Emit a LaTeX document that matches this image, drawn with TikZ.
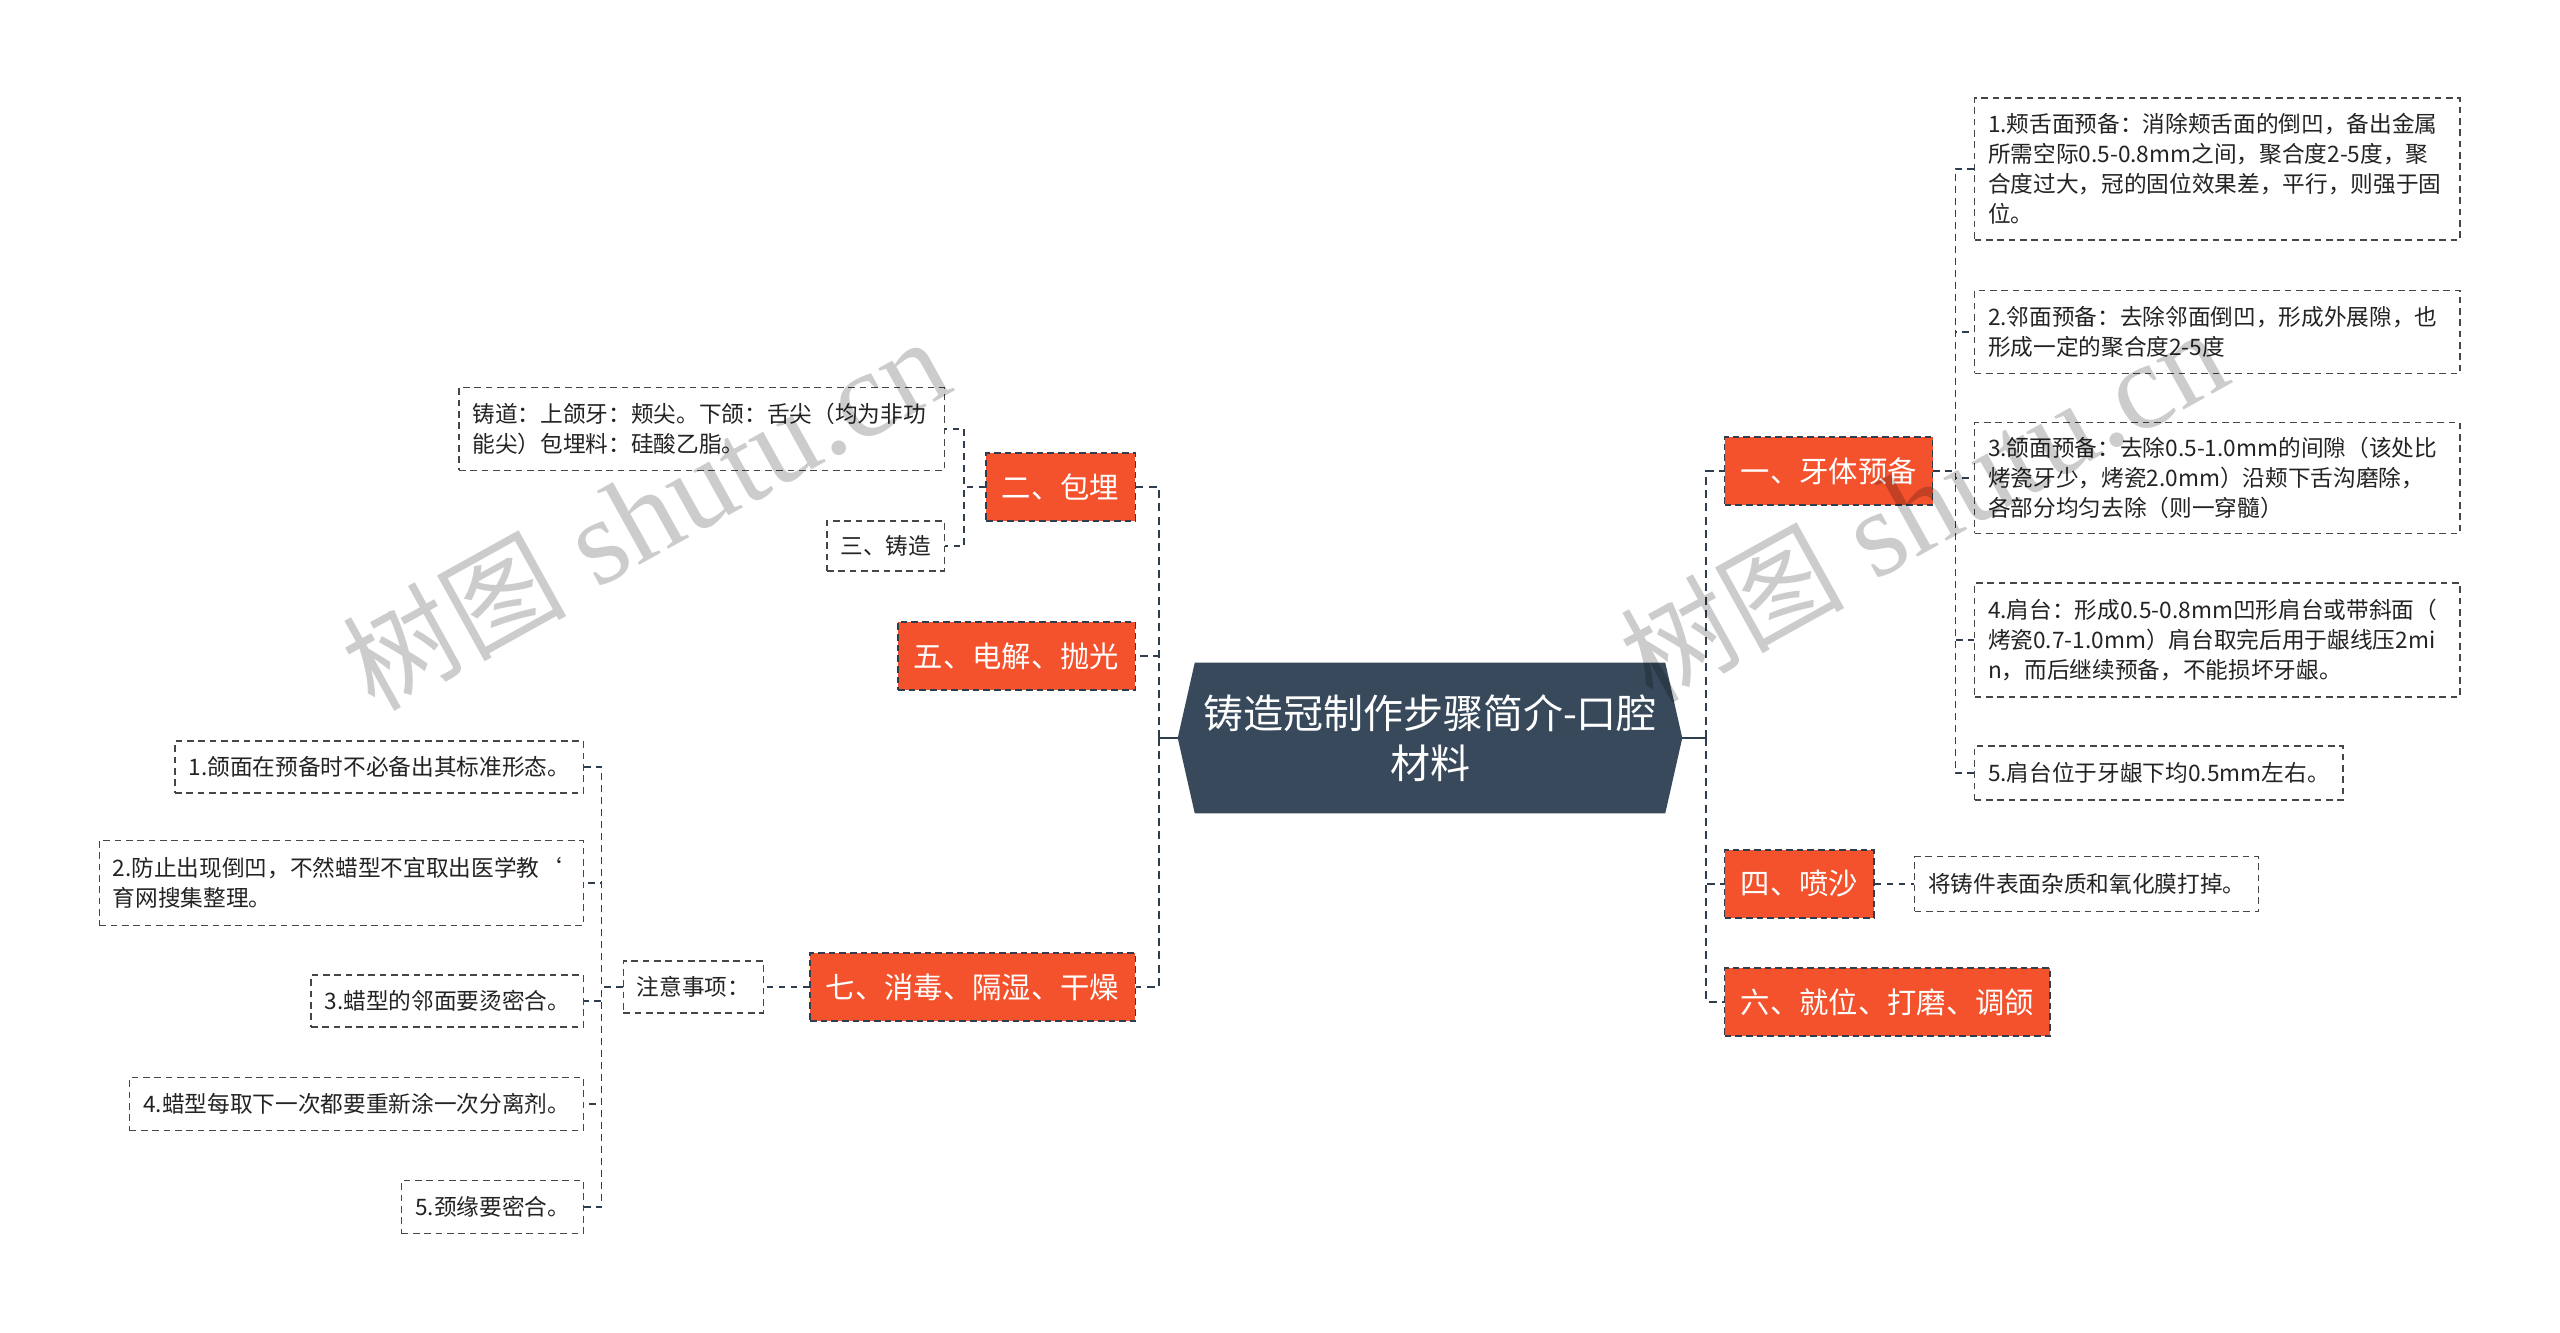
\documentclass[tikz,border=0pt]{standalone}
\usepackage{fontspec}
\setmainfont{Noto Sans CJK SC}
\newfontfamily\wmserif{Liberation Serif}
\newfontfamily\wmcjk{Noto Sans CJK SC}
\usetikzlibrary{calc,backgrounds}
\definecolor{orangeF}{RGB}{243,82,45}
\definecolor{slateF}{RGB}{55,73,90}
\definecolor{lineC}{RGB}{46,62,78}
\definecolor{leafB}{RGB}{70,70,70}
\definecolor{leafT}{RGB}{35,35,35}
\tikzset{
  central/.style={text=white, align=center, font=\fontsize{30}{37}\selectfont,
    minimum width=378pt, minimum height=112.5pt, inner sep=0pt},
  onode/.style={fill=orangeF, draw=lineC, dash pattern=on 5pt off 3pt, line width=1.1pt,
    text=white, font=\fontsize{22}{26}\selectfont, inner xsep=12pt, inner ysep=4pt,
    minimum height=51pt},
  leaf/.style={fill=white, draw=leafB, dash pattern=on 5pt off 3.5pt, line width=1pt,
    text=leafT, font=\fontsize{17}{22.5}\selectfont, inner xsep=10pt, inner ysep=4pt,
    align=left},
  trunkline/.style={draw=lineC, line width=2.2pt, dash pattern=on 6pt off 4pt},
  twig/.style={draw=lineC, line width=1.2pt, dash pattern=on 5pt off 4pt},
  solidc/.style={draw=lineC, line width=2.2pt},
  wmark/.style={text=black, opacity=0.2, rotate=29, inner sep=0pt}
}
\begin{document}
\begin{tikzpicture}[x=0.75pt,y=-0.75pt]
\useasboundingbox (0,0) rectangle (2560,1332);

% central
\node[central] (c) at (1430,738) {铸造冠制作步骤简介-口腔\\材料};
\begin{scope}[on background layer]
\fill[slateF] (c.west) -- ($(c.north west)+(17,0)$) -- ($(c.north east)+(-17,0)$) -- (c.east)
  -- ($(c.south east)+(-17,0)$) -- ($(c.south west)+(17,0)$) -- cycle;
\end{scope}

% right main branches
\node[onode, anchor=west] (n1) at (1724,471) {一、牙体预备};
\node[onode, anchor=west] (n4) at (1724,884) {四、喷沙};
\node[onode, anchor=west] (n6) at (1724,1002) {六、就位、打磨、调颌};

% left main branches
\node[onode, anchor=east] (n2) at (1136,487) {二、包埋};
\node[onode, anchor=east] (n5) at (1136,656) {五、电解、抛光};
\node[onode, anchor=east] (n7) at (1136,987) {七、消毒、隔湿、干燥};

% right leaves
\node[leaf, anchor=west, text width=344pt, minimum height=106.5pt] (r1) at (1974,169)
  {1.颊舌面预备：消除颊舌面的倒凹，备出金属\\所需空际0.5-0.8mm之间，聚合度2-5度，聚\\合度过大，冠的固位效果差，平行，则强于固\\位。};
\node[leaf, anchor=west, text width=344pt, minimum height=62pt] (r2) at (1974,332)
  {2.邻面预备：去除邻面倒凹，形成外展隙，也\\形成一定的聚合度2-5度};
\node[leaf, anchor=west, text width=344pt, minimum height=83pt] (r3) at (1974,478)
  {3.颌面预备：去除0.5-1.0mm的间隙（该处比\\烤瓷牙少，烤瓷2.0mm）沿颊下舌沟磨除，\\各部分均匀去除（则一穿髓）};
\node[leaf, anchor=west, text width=344pt, minimum height=85.5pt] (r4) at (1974,640)
  {4.肩台：形成0.5-0.8mm凹形肩台或带斜面（\\烤瓷0.7-1.0mm）肩台取完后用于龈线压2mi\\n，而后继续预备，不能损坏牙龈。};
\node[leaf, anchor=west, minimum height=40.5pt] (r5) at (1974,773)
  {5.肩台位于牙龈下均0.5mm左右。};
\node[leaf, anchor=west, minimum height=41pt] (pj) at (1914,884)
  {将铸件表面杂质和氧化膜打掉。};

% left leaves of 二
\node[leaf, anchor=east, text width=344pt, minimum height=62pt] (zd) at (945,429)
  {铸道：上颌牙：颊尖。下颌：舌尖（均为非功\\能尖）包埋料：硅酸乙脂。};
\node[leaf, anchor=east, minimum height=37.5pt] (sz) at (945,546) {三、铸造};

% 七 children
\node[leaf, anchor=east, minimum height=39pt] (zy) at (764,987) {注意事项：};
\node[leaf, anchor=east, minimum height=39pt] (l1) at (584,767) {1.颌面在预备时不必备出其标准形态。};
\node[leaf, anchor=east, text width=343pt, minimum height=64pt] (l2) at (584,883)
  {2.防止出现倒凹，不然蜡型不宜取出医学教\char96\\育网搜集整理。};
\node[leaf, anchor=east, minimum height=39pt] (l3) at (584,1001) {3.蜡型的邻面要烫密合。};
\node[leaf, anchor=east, minimum height=40pt] (l4) at (584,1104) {4.蜡型每取下一次都要重新涂一次分离剂。};
\node[leaf, anchor=east, minimum height=40pt] (l5) at (584,1207) {5.颈缘要密合。};

% connectors: center to trunks
\coordinate (rj) at (1706,738);
\coordinate (lj) at (1159,738);
\draw[solidc] (c.east) -- (rj);
\draw[solidc] (c.west) -- (lj);
\draw[trunkline] (rj) |- (n1.west);
\draw[trunkline] (rj) |- (n4.west);
\draw[trunkline] (rj) |- (n6.west);
\draw[trunkline] (lj) |- (n2.east);
\draw[trunkline] (lj) |- (n5.east);
\draw[trunkline] (lj) |- (n7.east);

% sub branches
\foreach \t in {r1,r2,r3,r4,r5}{\draw[twig] (n1.east) -- ++(22,0) |- (\t.west);}
\draw[twig] (n4.east) -- (pj.west);
\draw[twig] (n2.west) -- ++(-21,0) |- (zd.east);
\draw[twig] (n2.west) -- ++(-21,0) |- (sz.east);
\draw[twig] (n7.west) -- (zy.east);
\foreach \t in {l1,l2,l3,l4,l5}{\draw[twig] (zy.west) -- ++(-21,0) |- (\t.east);}

% watermarks
\node[wmark] (wm1) at (645,514) {{\wmcjk\fontsize{84}{90}\selectfont 树图}\hspace{22pt}{\wmserif\fontsize{92}{96}\selectfont shutu.cn}};
\node[wmark] (wm2) at (1923,506) {{\wmcjk\fontsize{84}{90}\selectfont 树图}\hspace{22pt}{\wmserif\fontsize{92}{96}\selectfont shutu.cn}};
\end{tikzpicture}
\end{document}
